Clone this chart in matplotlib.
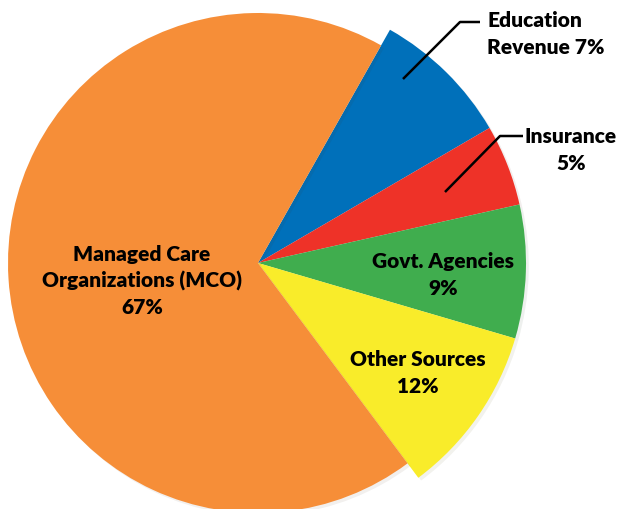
import matplotlib
matplotlib.use("Agg")
import matplotlib.pyplot as plt
import matplotlib.patheffects as pe

# slice shares as drawn (angles), clockwise from Education
sources = ["Education Revenue", "Insurance", "Govt. Agencies", "Other Sources",
           "Managed Care Organizations (MCO)"]
shares = [8.4, 4.9, 8.05, 10.25, 68.4]
printed_pct = ["7%", "5%", "9%", "12%", "67%"]
colors = ["#0070BA", "#EE3228", "#40AD4E", "#F9EC2A", "#F68E38"]

W, H = 623, 510
FONT = "Lato"


def main() -> None:
    fig = plt.figure(figsize=(W / 100, H / 100), dpi=100)
    ax = fig.add_axes([0, 0, 1, 1])

    cx, cy = 258, H - 264
    wedges, _ = ax.pie(shares, colors=colors, startangle=60.5, counterclock=False,
                       center=(cx, cy), radius=268, frame=True)
    # the big orange slice sits a bit smaller than the others
    wedges[-1].set_radius(250)
    for w in wedges:
        w.set_path_effects([pe.SimplePatchShadow(offset=(2, -2), alpha=0.07), pe.Normal()])
    ax.set_xlim(0, W)
    ax.set_ylim(0, H)
    ax.set_aspect("equal")
    ax.axis("off")

    tkw = dict(fontsize=15, fontweight="heavy", family=FONT, color="black")
    ls = 1.45

    # inside labels
    ax.text(142, H - 281, "Managed Care\nOrganizations (MCO)\n" + printed_pct[4],
            ha="center", va="center", linespacing=ls, **tkw)
    ax.text(443, H - 275, sources[2] + "\n" + printed_pct[2],
            ha="center", va="center", linespacing=ls, **tkw)
    ax.text(418, H - 373, sources[3] + "\n" + printed_pct[3],
            ha="center", va="center", linespacing=ls, **tkw)

    # outside labels with leader lines
    ax.text(487, H - 34, "Education\nRevenue " + printed_pct[0],
            ha="left", va="center", linespacing=ls, **tkw)
    ax.text(571, H - 150, sources[1] + "\n" + printed_pct[1],
            ha="center", va="center", linespacing=ls, **tkw)
    ax.plot([403, 460, 480], [H - 80, H - 23, H - 23], color="black", lw=1.8,
            solid_capstyle="butt")
    ax.plot([445, 500, 523], [H - 193, H - 137, H - 137], color="black", lw=1.8,
            solid_capstyle="butt")

    fig.savefig("out.png", dpi=100)
    plt.close(fig)


if __name__ == "__main__":
    main()
